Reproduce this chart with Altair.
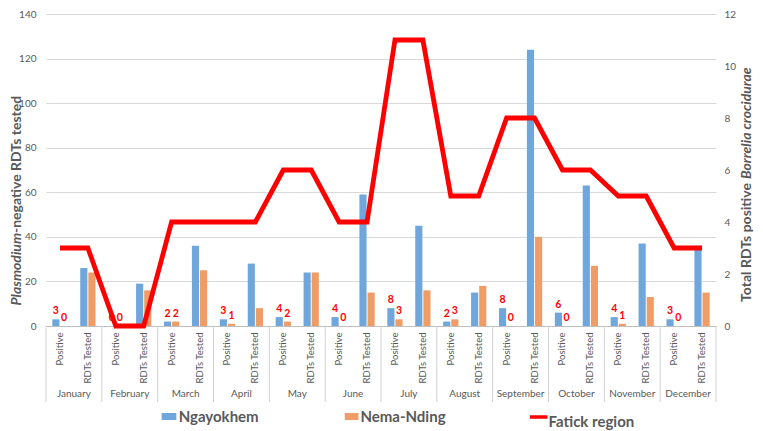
import altair as alt
import pandas as pd

months = ["January", "February", "March", "April", "May", "June", "July",
          "August", "September", "October", "November", "December"]
kinds = ["Positive", "RDTs Tested"]
series_names = ["Ngayokhem", "Nema-Nding"]
ngay_positive = [3, 0, 2, 3, 4, 4, 8, 2, 8, 6, 4, 3]
nema_positive = [0, 0, 2, 1, 2, 0, 3, 3, 0, 0, 1, 0]
ngay_tested = [26, 19, 36, 28, 24, 59, 45, 15, 124, 63, 37, 36]
nema_tested = [24, 16, 25, 8, 24, 15, 16, 18, 40, 27, 13, 15]
fatick_region = [3, 0, 4, 4, 6, 4, 11, 5, 8, 6, 5, 3]
left_ticks = [0, 20, 40, 60, 80, 100, 120, 140]
right_ticks = [0, 2, 4, 6, 8, 10, 12]

W, H = 670, 312
FONT = "Lato"
GRAY = "#595959"
BLUE = "#6FA6DC"
ORANGE = "#EF9C66"
RED = "#FF0000"

cats = [f"{m}|{k}" for m in months for k in kinds]

rows = []
for i, m in enumerate(months):
    for k, a, b in (("Positive", ngay_positive, nema_positive),
                    ("RDTs Tested", ngay_tested, nema_tested)):
        rows.append({"cat": f"{m}|{k}", "kind": k, "series": series_names[0], "value": a[i]})
        rows.append({"cat": f"{m}|{k}", "kind": k, "series": series_names[1], "value": b[i]})
bars_df = pd.DataFrame(rows)
pos_df = bars_df[bars_df["kind"] == "Positive"]

line_df = pd.DataFrame([{"cat": f"{m}|{k}", "fatick": fatick_region[i]}
                        for i, m in enumerate(months) for k in kinds])
sep_df = pd.DataFrame({"cat": [f"{m}|Positive" for m in months]})
month_df = pd.DataFrame({"cat": [f"{m}|RDTs Tested" for m in months], "month": months})

xscale = alt.Scale(domain=cats, paddingInner=0, paddingOuter=0)
xaxis = alt.Axis(title=None, labelExpr="split(datum.value, '|')[1]", labelAngle=270,
                 labelAlign="right", labelBaseline="middle", labelPadding=6,
                 ticks=False, domainColor="#BFBFBF", labelColor=GRAY, labelFont=FONT,
                 labelFontSize=9.5, labelOverlap=False, grid=False)
xoff = alt.XOffset("series:N", sort=series_names,
                   scale=alt.Scale(domain=series_names, paddingInner=0.12, paddingOuter=0.78))
yscale_l = alt.Scale(domain=[0, 140])
yaxis_l = alt.Axis(values=left_ticks, title=None, domain=False, ticks=False,
                   labelPadding=10, gridColor="#D9D9D9", labelColor=GRAY,
                   labelFont=FONT, labelFontSize=10)


def X(**kw):
    return alt.X("cat:N", sort=cats, scale=xscale, axis=xaxis, **kw)


bars = alt.Chart(bars_df).mark_bar().encode(
    x=X(),
    xOffset=xoff,
    y=alt.Y("value:Q", scale=yscale_l, axis=yaxis_l),
    color=alt.Color("series:N", scale=alt.Scale(domain=series_names, range=[BLUE, ORANGE]),
                    legend=None),
)

labels = alt.Chart(pos_df).mark_text(
    color=RED, font=FONT, fontWeight="bold", fontSize=10.5, baseline="alphabetic", dy=-5
).encode(
    x=X(),
    xOffset=xoff,
    y=alt.Y("value:Q", scale=yscale_l, axis=yaxis_l),
    text="value:Q",
)

left = alt.layer(bars, labels)

line = alt.Chart(line_df).mark_line(color=RED, strokeWidth=4.8).encode(
    x=X(),
    y=alt.Y("fatick:Q", scale=alt.Scale(domain=[0, 12]),
            axis=alt.Axis(orient="right", values=right_ticks, title=None, domain=False,
                          ticks=False, grid=False, labelPadding=8, labelColor=GRAY,
                          labelFont=FONT, labelFontSize=10)),
)

seps = alt.Chart(sep_df).mark_rule(color="#D0D0D0", strokeWidth=1).encode(
    x=X(bandPosition=0),
    y=alt.value(H), y2=alt.value(H + 76),
)
end_sep = alt.Chart(alt.Data(values=[{}])).mark_rule(color="#D0D0D0", strokeWidth=1).encode(
    x=alt.value(W), y=alt.value(H), y2=alt.value(H + 76),
)
month_text = alt.Chart(month_df).mark_text(
    font=FONT, fontSize=10, color=GRAY, baseline="middle", align="center"
).encode(
    x=X(bandPosition=0),
    y=alt.value(H + 68),
    text="month:N",
)

one = alt.Data(values=[{}])


def txt(t, x, y, align, style="normal", size=14, weight="bold", angle=270, color=GRAY, baseline="middle"):
    return alt.Chart(one).mark_text(
        text=t, font=FONT, fontSize=size, fontWeight=weight, fontStyle=style,
        color=color, angle=angle, align=align, baseline=baseline,
    ).encode(x=alt.value(x), y=alt.value(y))


titles = [
    txt("Plasmodium", -29, 219, "right", style="italic"),
    txt("-negative RDTs tested", -29, 219, "left"),
    txt("Total RDTs positive", 701, 169, "right"),
    txt("Borrelia crocidurae", 701, 165, "left", style="italic"),
]

legend = [
    alt.Chart(one).mark_rect(color=BLUE).encode(
        x=alt.value(115.6), x2=alt.value(130.3), y=alt.value(399), y2=alt.value(406)),
    txt("Ngayokhem", 132.7, 402.5, "left", size=15, angle=0),
    alt.Chart(one).mark_rect(color=ORANGE).encode(
        x=alt.value(298.8), x2=alt.value(312.5), y=alt.value(399), y2=alt.value(406)),
    txt("Nema-Nding", 314.4, 402.5, "left", size=15, angle=0),
    alt.Chart(one).mark_rule(color=RED, strokeWidth=3.5).encode(
        x=alt.value(483.9), x2=alt.value(501.5), y=alt.value(403)),
    txt("Fatick region", 502.5, 407.5, "left", size=15, angle=0),
]

chart = alt.layer(
    left, line, seps, end_sep, month_text, *titles, *legend
).resolve_scale(y="independent").properties(
    width=W, height=H,
    padding={"left": 38, "top": 6, "right": 39, "bottom": 105},
    autosize=alt.AutoSizeParams(type="none"),
).configure_view(strokeWidth=0)

chart.save("out.html", embed_options={"renderer": "svg", "actions": False})
